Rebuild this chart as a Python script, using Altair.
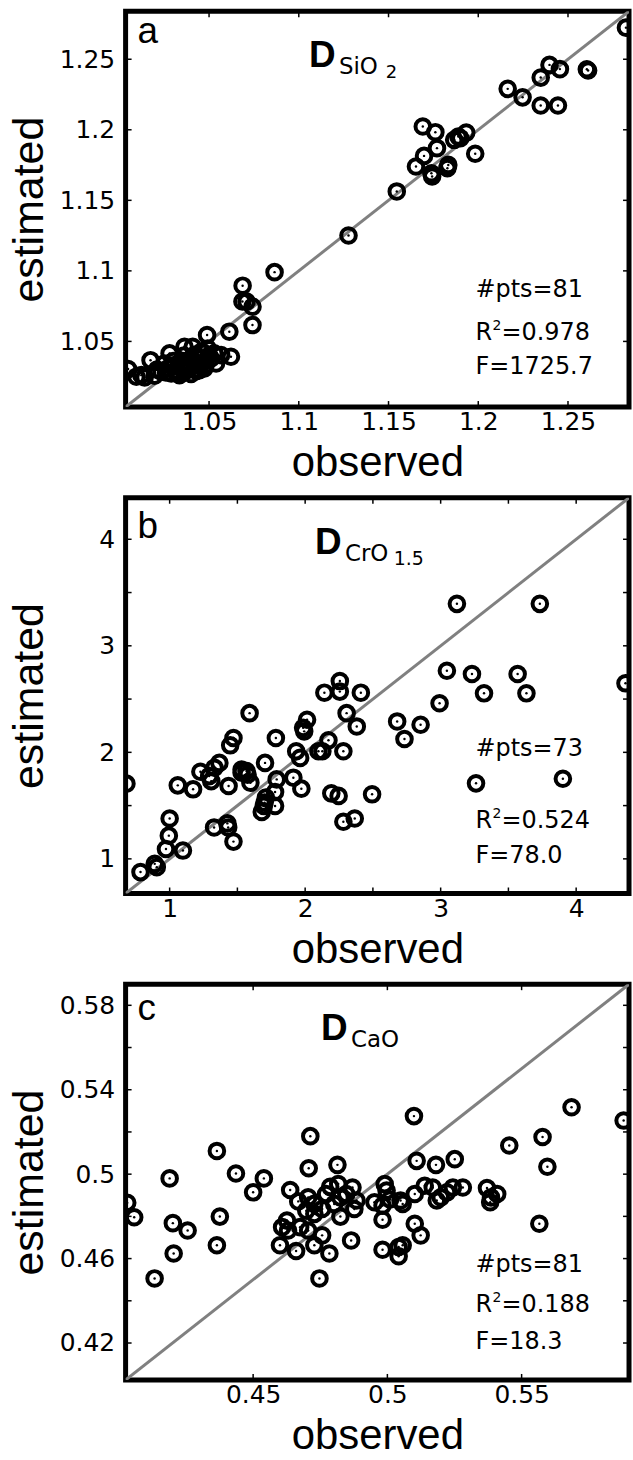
import altair as alt
import pandas as pd

# ---------------- data ----------------
a_obs = [1.2823, 1.2605, 1.2612, 1.2397, 1.2455, 1.2348, 1.2164, 1.2247, 1.2348, 1.2444,
         1.1691, 1.1761, 1.1933, 1.1889, 1.1866, 1.1900, 1.1770, 1.1983, 1.1698, 1.1653,
         1.1833, 1.1828, 1.1739, 1.1743, 1.1546, 1.1277,
         1.0865, 1.0687, 1.0686, 1.0709, 1.0742, 1.0742, 1.0613, 1.0489, 1.0622, 1.0567,
         1.0049, 1.0174, 1.0280, 1.0363, 1.0409, 1.0095, 1.0141, 1.0123, 1.0234, 1.0289,
         1.0335, 1.0345, 1.0391, 1.0437, 1.0474, 1.0511, 1.0456, 1.0493, 1.0400, 1.0308,
         1.0271, 1.0363, 1.0539, 1.0418, 1.0196, 1.0529, 1.0446, 1.0317, 1.0382, 1.0474,
         1.0252, 1.0380, 1.0420, 1.0300, 1.0450, 1.0360, 1.0330, 1.0480, 1.0400, 1.0500,
         1.0260, 1.0350, 1.0430, 1.0210, 1.0470]
a_est = [1.2724, 1.2429, 1.2420, 1.2460, 1.2430, 1.2370, 1.2290, 1.2230, 1.2172, 1.2172,
         1.2023, 1.1983, 1.1980, 1.1952, 1.1929, 1.1940, 1.1870, 1.1830, 1.1815, 1.1740,
         1.1751, 1.1728, 1.1692, 1.1669, 1.1563, 1.1251,
         1.0991, 1.0895, 1.0783, 1.0782, 1.0746, 1.0616, 1.0569, 1.0545, 1.0391, 1.0403,
         1.0304, 1.0367, 1.0415, 1.0462, 1.0462, 1.0250, 1.0245, 1.0261, 1.0285, 1.0273,
         1.0261, 1.0309, 1.0321, 1.0344, 1.0356, 1.0379, 1.0427, 1.0450, 1.0379, 1.0332,
         1.0309, 1.0285, 1.0344, 1.0403, 1.0257, 1.0415, 1.0296, 1.0296, 1.0356, 1.0309,
         1.0344, 1.0300, 1.0330, 1.0360, 1.0380, 1.0400, 1.0280, 1.0330, 1.0270, 1.0400,
         1.0280, 1.0350, 1.0290, 1.0300, 1.0420]

b_obs = [0.681, 4.364, 3.120, 3.732, 3.046, 3.231, 3.568, 3.320, 3.633, 2.992,
         3.902, 3.261, 2.679, 2.852, 2.733, 2.494, 2.366, 2.282, 2.256, 2.256,
         2.142, 2.411, 2.306, 2.381, 2.282, 2.172, 2.098, 2.127, 2.014, 1.993,
         1.934, 1.963, 1.913, 1.972, 2.193, 2.247, 1.784, 1.590, 1.471, 1.447,
         1.367, 1.227, 1.292, 1.307, 1.531, 1.567, 1.596, 1.435, 1.704, 1.060,
         1.173, 1.790, 1.778, 1.710, 1.695, 1.778, 1.680, 1.000, 0.994, 0.973,
         1.098, 1.328, 1.426, 1.432, 1.471, 0.890, 0.905, 0.785, 1.701, 1.531,
         1.331, 1.985, 1.575]
b_est = [1.706, 2.648, 3.394, 3.394, 2.766, 2.735, 2.735, 2.554, 2.554, 2.461,
         1.752, 1.709, 2.290, 2.259, 2.125, 1.606, 1.379, 1.348, 2.669, 2.570,
         2.560, 2.560, 2.368, 2.243, 2.010, 2.113, 2.010, 2.010, 2.306, 2.197,
         2.010, 1.948, 1.762, 1.659, 1.615, 1.591, 2.135, 2.368, 2.135, 2.066,
         1.901, 1.818, 1.777, 1.730, 1.808, 1.824, 1.715, 1.684, 1.901, 1.690,
         1.653, 1.746, 1.628, 1.575, 1.497, 1.497, 1.441, 1.379, 1.218, 1.093,
         1.078, 1.295, 1.333, 1.295, 1.162, 0.953, 0.922, 0.876, 1.528, 1.839,
         1.855, 2.230, 1.790]

c_obs = [0.4031, 0.4057, 0.5880, 0.5686, 0.5099, 0.4713, 0.5578, 0.5454, 0.4365, 0.5251,
         0.5109, 0.5181, 0.4814, 0.5596, 0.4707, 0.4436, 0.4189, 0.4540, 0.4500, 0.4638,
         0.4668, 0.4705, 0.4787, 0.4817, 0.4870, 0.4847, 0.4825, 0.4802, 0.4757, 0.4728,
         0.4825, 0.4877, 0.4990, 0.4997, 0.4952, 0.4982, 0.4982, 0.5049, 0.5057, 0.5102,
         0.5139, 0.5169, 0.5199, 0.5222, 0.5244, 0.5281, 0.5371, 0.5383, 0.5409, 0.5102,
         0.5124, 0.5566, 0.4982, 0.5042, 0.5057, 0.5042, 0.4865, 0.4784, 0.4757, 0.4728,
         0.4747, 0.4660, 0.4600, 0.4626, 0.4630, 0.4675, 0.4705, 0.4376, 0.4365, 0.4256,
         0.4201, 0.4204, 0.4133, 0.4728, 0.4772, 0.4885, 0.5184, 0.5386, 0.4608, 0.5010,
         0.4698]
c_est = [0.4864, 0.4796, 0.5254, 0.5317, 0.5275, 0.5180, 0.5176, 0.5136, 0.5110, 0.5071,
         0.5063, 0.5044, 0.5044, 0.5035, 0.5028, 0.5003, 0.4980, 0.4980, 0.4914, 0.4925,
         0.4871, 0.4890, 0.4940, 0.4953, 0.4937, 0.4906, 0.4890, 0.4859, 0.4835, 0.4812,
         0.4799, 0.4835, 0.4953, 0.4922, 0.4867, 0.4851, 0.4784, 0.4875, 0.4859, 0.4906,
         0.4945, 0.4937, 0.4890, 0.4914, 0.4937, 0.4937, 0.4934, 0.4867, 0.4906, 0.4765,
         0.4710, 0.4765, 0.4642, 0.4611, 0.4663, 0.4655, 0.4686, 0.4624, 0.4710, 0.4663,
         0.4506, 0.4636, 0.4663, 0.4780, 0.4733, 0.4749, 0.4733, 0.4799, 0.4663, 0.4733,
         0.4768, 0.4624, 0.4506, 0.4859, 0.4906, 0.4875, 0.4875, 0.4890, 0.4749, 0.4880,
         0.4827]

a_domain = [1.0035, 1.284]
b_domain = [0.675, 4.39]
c_domain = [0.4025, 0.590]

a_labels = [1.05, 1.1, 1.15, 1.2, 1.25]
b_labels = [1, 2, 3, 4]
b_ticks = [1, 1.5, 2, 2.5, 3, 3.5, 4]
c_xlabels = [0.45, 0.5, 0.55]
c_ylabels = [0.42, 0.46, 0.5, 0.54, 0.58]
c_yticks = [0.42, 0.44, 0.46, 0.48, 0.5, 0.52, 0.54, 0.56, 0.58]

W, H = 505, 397
TFONT = "Liberation Sans"
FONT = "DejaVu Sans"
LABEL_SIZE = 25


def panel(obs, est, domain, xlabels, ylabels, xticks, yticks, letter, letter_y,
          sub, sub2, dx, stats):
    sc = alt.Scale(domain=domain, nice=False, zero=False)
    df = pd.DataFrame({"observed": obs, "estimated": est})
    xax = alt.Axis(values=xlabels, labelExpr="format(datum.value, '~g')", domain=False, ticks=False,
                   grid=False, labelFont=FONT, labelFontSize=LABEL_SIZE, labelColor="black",
                   labelPadding=3, labelFlush=False, title="observed", titleFont=TFONT,
                   titleFontSize=42, titleFontWeight="normal", titleColor="black",
                   titleY=69, titleBaseline="alphabetic")
    yax = alt.Axis(values=ylabels, labelExpr="format(datum.value, '~g')", domain=False, ticks=False,
                   grid=False, labelFont=FONT, labelFontSize=LABEL_SIZE, labelColor="black",
                   labelPadding=11, labelFlush=False, title="estimated", titleFont=TFONT,
                   titleFontSize=43, titleFontWeight="normal", titleColor="black",
                   titleX=-83, titleBaseline="alphabetic", titleAngle=-90)
    base = alt.Chart(df)
    rings = base.mark_point(shape="circle", filled=False, size=215, strokeWidth=4,
                            color="black", opacity=1, clip=True).encode(
        x=alt.X("observed:Q", scale=sc, axis=xax),
        y=alt.Y("estimated:Q", scale=sc, axis=yax))
    dots = base.mark_point(shape="circle", filled=True, size=6, color="black",
                           opacity=1, clip=True).encode(
        x=alt.X("observed:Q", scale=sc), y=alt.Y("estimated:Q", scale=sc))
    diag = alt.Chart(pd.DataFrame({"v": domain})).mark_line(
        color="#808080", strokeWidth=3, clip=True).encode(
        x=alt.X("v:Q", scale=sc), y=alt.Y("v:Q", scale=sc))
    xt = pd.DataFrame({"v": xticks})
    yt = pd.DataFrame({"v": yticks})
    tb = alt.Chart(xt).mark_rule(color="black", strokeWidth=1.5).encode(
        x=alt.X("v:Q", scale=sc), y=alt.value(H), y2=alt.value(H - 6))
    tt = alt.Chart(xt).mark_rule(color="black", strokeWidth=1.5).encode(
        x=alt.X("v:Q", scale=sc), y=alt.value(0), y2=alt.value(6))
    tl = alt.Chart(yt).mark_rule(color="black", strokeWidth=1.5).encode(
        y=alt.Y("v:Q", scale=sc), x=alt.value(0), x2=alt.value(6))
    tr = alt.Chart(yt).mark_rule(color="black", strokeWidth=1.5).encode(
        y=alt.Y("v:Q", scale=sc), x=alt.value(W), x2=alt.value(W - 6))

    one = alt.Data(values=[{}])

    def txt(s, x, y, size, weight="normal", font=FONT):
        return alt.Chart(one).mark_text(text=s, font=font, fontSize=size, fontWeight=weight,
                                        color="black", align="left", baseline="alphabetic").encode(
            x=alt.value(x), y=alt.value(y))

    layers = [diag, rings, dots, tb, tt, tl, tr,
              txt(letter, 12, letter_y, 37, font=TFONT),
              txt("D", 184 + dx, 56, 37, "bold", font=TFONT),
              txt(sub, 214 + dx, 63, 23)]
    if sub2:
        layers.append(txt(sub2[0], sub2[1] + dx, 67, sub2[2]))
    n, r2, f, ys = stats
    layers += [txt(n, 351, ys[0], 24),
               txt("R", 351, ys[1], 24),
               txt("2", 368, ys[1] - 10, 14),
               txt(r2, 377, ys[1], 24),
               txt(f, 351, ys[2], 24)]
    return alt.layer(*layers).properties(width=W, height=H)


pa = panel(a_obs, a_est, a_domain, a_labels, a_labels, a_labels, a_labels, "a", 32,
           "SiO", ("2", 261, 18), 0,
           ("#pts=81", "=0.978", "F=1725.7", [287, 330, 364]))
pb = panel(b_obs, b_est, b_domain, b_labels, b_labels, b_ticks, b_ticks, "b", 40,
           "CrO", ("1.5", 263, 19), 6,
           ("#pts=73", "=0.524", "F=78.0", [259, 331, 366]))
pc = panel(c_obs, c_est, c_domain, c_xlabels, c_ylabels, c_xlabels, c_yticks, "c", 36,
           "CaO", None, 12,
           ("#pts=81", "=0.188", "F=18.3", [289, 329, 366]))

chart = alt.vconcat(pa, pb, pc, spacing=91, bounds="flush").properties(
    autosize=alt.AutoSizeParams(type="pad"),
    padding={"left": 6, "top": 5, "right": 0, "bottom": 0},
    background="white",
).configure_view(stroke="black", strokeWidth=5)

chart.save("out.html", embed_options={"renderer": "svg", "actions": False})
